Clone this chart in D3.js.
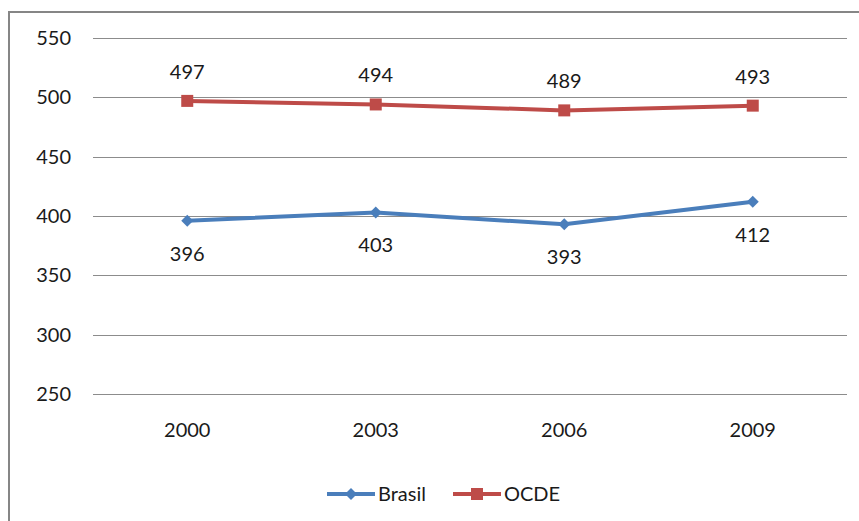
<!DOCTYPE html>
<html>
<head>
<meta charset="utf-8">
<script src="https://cdn.jsdelivr.net/npm/d3@7"></script>
<style>
  html, body { margin: 0; padding: 0; background: #fff; }
  svg { display: block; }
  text { font-family: Lato, "Open Sans", sans-serif; fill: #1a1a1a; }
</style>
</head>
<body>
<svg id="chart" width="859" height="521"></svg>
<script>
// PISA scores by year
const years = ["2000", "2003", "2006", "2009"];
const brasil = [396, 403, 393, 412];
const ocde = [497, 494, 489, 493];
const yTicks = [250, 300, 350, 400, 450, 500, 550];

const seriesList = [
  { name: "Brasil", values: brasil, color: "#4A7EBB", marker: "diamond", labelPos: "below" },
  { name: "OCDE", values: ocde, color: "#BE4B48", marker: "square", labelPos: "above" }
];

const FONT = "20px";
const svg = d3.select("#chart");
const W = 859, H = 521;
const plot = { left: 93, right: 847, top: 38, bottom: 394 };

// outer chart frame
svg.append("rect")
  .attr("x", 9).attr("y", 12)
  .attr("width", W + 10).attr("height", H + 10)
  .attr("fill", "none").attr("stroke", "#868686").attr("stroke-width", 2);

const x = d3.scaleBand().domain(years).range([plot.left, plot.right]);
const y = d3.scaleLinear().domain([250, 550]).range([plot.bottom, plot.top]);

// horizontal gridlines
svg.append("g").selectAll("line").data(yTicks).join("line")
  .attr("x1", plot.left).attr("x2", plot.right)
  .attr("y1", d => Math.round(y(d)) + 0.5).attr("y2", d => Math.round(y(d)) + 0.5)
  .attr("stroke", "#8C8C8C").attr("stroke-width", 1);

// y axis labels
const yAxis = d3.axisLeft(y).tickValues(yTicks).tickSize(0).tickPadding(0);
const gy = svg.append("g").attr("transform", `translate(71,0)`).call(yAxis);
gy.select(".domain").remove();
gy.selectAll("text").style("font-size", FONT).attr("fill", "#1a1a1a")
  .style("font-family", "Lato, 'Open Sans', sans-serif");

// x axis labels
const xAxis = d3.axisBottom(x).tickSize(0).tickPadding(0);
const gx = svg.append("g").attr("transform", `translate(0,${plot.bottom + 29})`).call(xAxis);
gx.select(".domain").remove();
gx.selectAll("text").style("font-size", FONT).attr("fill", "#1a1a1a")
  .style("font-family", "Lato, 'Open Sans', sans-serif");

const cx = d => x(d) + x.bandwidth() / 2;

const line = d3.line().x((d, i) => cx(years[i])).y(d => y(d));

function drawMarker(g, type, px, py, color) {
  if (type === "square") {
    g.append("rect").attr("x", px - 6).attr("y", py - 6).attr("width", 12).attr("height", 12)
      .attr("fill", color);
  } else {
    g.append("path")
      .attr("d", `M${px},${py - 6}L${px + 6},${py}L${px},${py + 6}L${px - 6},${py}Z`)
      .attr("fill", color);
  }
}

seriesList.forEach(s => {
  const g = svg.append("g");
  g.append("path").datum(s.values).attr("d", line)
    .attr("fill", "none").attr("stroke", s.color).attr("stroke-width", 4)
    .attr("stroke-linejoin", "round");
  s.values.forEach((v, i) => {
    const px = cx(years[i]), py = y(v);
    drawMarker(g, s.marker, px, py, s.color);
    g.append("text")
      .attr("x", px)
      .attr("y", s.labelPos === "above" ? py - 22 : py + 40)
      .attr("text-anchor", "middle")
      .style("font-size", FONT)
      .text(v);
  });
});

// legend
const legend = svg.append("g").attr("transform", "translate(0,494)");
const legendItems = [
  { s: seriesList[0], x0: 327 },
  { s: seriesList[1], x0: 453 }
];
legendItems.forEach(({ s, x0 }) => {
  legend.append("line").attr("x1", x0).attr("x2", x0 + 48).attr("y1", 0).attr("y2", 0)
    .attr("stroke", s.color).attr("stroke-width", 4);
  drawMarker(legend, s.marker, x0 + 24, 0, s.color);
  legend.append("text").attr("x", x0 + 51).attr("y", 7)
    .style("font-size", FONT).text(s.name);
});
</script>
</body>
</html>
